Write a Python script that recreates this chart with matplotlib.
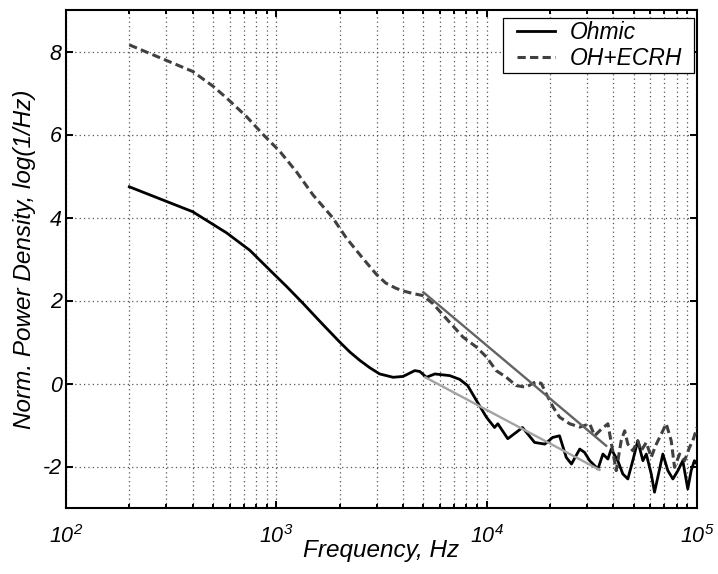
import matplotlib
matplotlib.use("Agg")
import matplotlib.pyplot as plt
import numpy as np
from matplotlib.ticker import LogLocator, NullFormatter
from matplotlib.patches import Rectangle

plt.rcParams['font.family'] = ['Liberation Sans', 'DejaVu Sans']
plt.rcParams['mathtext.fontset'] = 'custom'
plt.rcParams['mathtext.rm'] = 'Liberation Sans:italic'
plt.rcParams['mathtext.it'] = 'Liberation Sans:italic'

# ---- data ----
ohmic_f = [200, 400, 580, 748, 950, 1118, 1340, 1609, 2000, 2235, 2490, 2782, 3100,
           3590, 4004, 4307, 4550, 4806, 5170, 5670, 6670, 7440, 8120, 8940, 9970,
           10900, 11300, 12600, 13800, 14800, 16900, 18900, 20600, 22200, 23900,
           25300, 27700, 29200, 30900, 33800, 35700, 37700, 39100, 42000, 44400,
           46900, 49500, 52300, 55300, 57400, 60600, 62800, 65100, 68800, 72700,
           76800, 81100, 85600, 90400, 93800, 97200, 100000]
ohmic_p = [4.74, 4.14, 3.63, 3.21, 2.69, 2.34, 1.93, 1.50, 1.00, 0.76, 0.56, 0.38, 0.23,
           0.15, 0.17, 0.25, 0.31, 0.29, 0.15, 0.23, 0.19, 0.10, -0.05, -0.41, -0.81,
           -1.06, -0.97, -1.33, -1.18, -1.06, -1.42, -1.46, -1.30, -1.26, -1.78,
           -1.94, -1.58, -1.66, -1.86, -2.06, -1.70, -1.82, -1.58, -1.86, -2.18,
           -2.30, -1.86, -1.38, -1.86, -1.70, -2.18, -2.62, -2.26, -1.70, -2.10,
           -2.30, -2.10, -1.86, -2.54, -2.10, -1.86, -1.94]

ecrh_f = [200, 400, 501, 580, 722, 865, 1040, 1247, 1496, 1850, 2156, 2584, 2990,
          3313, 3720, 4079, 4450, 4960, 5540, 6440, 7710, 8930, 9970, 11100, 12400,
          13800, 15400, 17200, 18200, 19200, 20700, 22200, 24800, 27700, 30900,
          32600, 35100, 37700, 39100, 41300, 43600, 45300, 46900, 49500, 52300,
          54300, 57400, 60600, 63500, 67600, 71400, 75400, 78200, 82600, 87300,
          92100, 95500, 100000]
ecrh_p = [8.16, 7.52, 7.16, 6.88, 6.43, 6.00, 5.59, 5.10, 4.54, 4.00, 3.50, 3.01, 2.63,
          2.42, 2.29, 2.22, 2.17, 2.12, 1.93, 1.56, 1.12, 0.88, 0.64, 0.31, 0.15,
          -0.05, -0.09, 0.05, 0.00, -0.25, -0.57, -0.81, -0.97, -1.05, -0.97,
          -1.26, -1.10, -0.97, -1.42, -2.10, -1.38, -1.14, -1.46, -1.62, -1.38,
          -1.62, -1.42, -1.78, -1.50, -1.22, -0.97, -1.38, -2.02, -1.70, -1.86,
          -1.54, -1.38, -1.06]

fit_ecrh_f = [5000, 37000]
fit_ecrh_p = [2.2, -1.5]
fit_ohmic_f = [5100, 34400]
fit_ohmic_p = [0.15, -2.08]

xticks = [1e2, 1e3, 1e4, 1e5]
xtick_labels = [r'$10^{2}$', r'$10^{3}$', r'$10^{4}$', r'$10^{5}$']
yticks = [-2, 0, 2, 4, 6, 8]

# ---- figure ----
W, H = 718, 574
fig = plt.figure(figsize=(7.18, 5.74), dpi=100)
ax = fig.add_axes([66/W, 1-508/H, (697-66)/W, (508-10)/H])

ax.plot(ohmic_f, ohmic_p, color='black', lw=2.0, label='Ohmic', zorder=3,
        solid_joinstyle='round')
ax.plot(ecrh_f, ecrh_p, color='#404040', lw=2.2, ls=(0, (2.7, 1.4)), label='OH+ECRH',
        zorder=3)
ax.plot(fit_ecrh_f, fit_ecrh_p, color='#636363', lw=1.7, zorder=4)
ax.plot(fit_ohmic_f, fit_ohmic_p, color='#a3a3a3', lw=1.7, zorder=4)

ax.set_xscale('log')
ax.set_xlim(1e2, 1e5)
ax.set_ylim(-3, 9)
ax.set_xticks(xticks)
ax.set_xticklabels(xtick_labels, fontsize=15.5)
ax.xaxis.set_minor_locator(LogLocator(base=10, subs=np.arange(2, 10)))
ax.xaxis.set_minor_formatter(NullFormatter())
ax.set_yticks(yticks)
ax.set_yticklabels([str(v) for v in yticks], fontsize=15.5, style='italic')

ax.grid(True, which='major', axis='both', ls=(0, (1, 2.5)), color='#555555', lw=0.9)
ax.grid(True, which='minor', axis='x', ls=(0, (1, 2.5)), color='#555555', lw=0.9)

ax.tick_params(which='both', direction='in', top=True, right=True, width=1.4)
ax.tick_params(which='major', length=5)
ax.tick_params(which='minor', length=3)
ax.tick_params(axis='x', pad=12.5)
ax.tick_params(axis='y', pad=3)
for s in ax.spines.values():
    s.set_linewidth(1.5)

ax.set_xlabel('Frequency, Hz', fontsize=17.5, style='italic', labelpad=-6.5)
ax.set_ylabel('Norm. Power Density, log(1/Hz)', fontsize=17.5, style='italic', labelpad=5)

# legend box drawn as plain rectangle, legend entries centred inside it
bx0, by0, bx1, by1 = 503, 18, 694, 73
box = Rectangle((bx0/W, 1-by1/H), (bx1-bx0)/W, (by1-by0)/H, transform=fig.transFigure,
                facecolor='white', edgecolor='black', lw=0.9, zorder=5)
ax.add_artist(box)
box.set_clip_on(False)
leg = ax.legend(loc='center', bbox_to_anchor=((bx0+bx1)/2/W + 1/W, 1-(by0+by1)/2/H),
                bbox_transform=fig.transFigure, borderaxespad=0, frameon=False,
                prop={'style': 'italic', 'size': 16.5},
                handlelength=1.66, handletextpad=0.65, labelspacing=0.12, borderpad=0.0)
leg.set_zorder(6)

fig.savefig('out.png', dpi=100)
